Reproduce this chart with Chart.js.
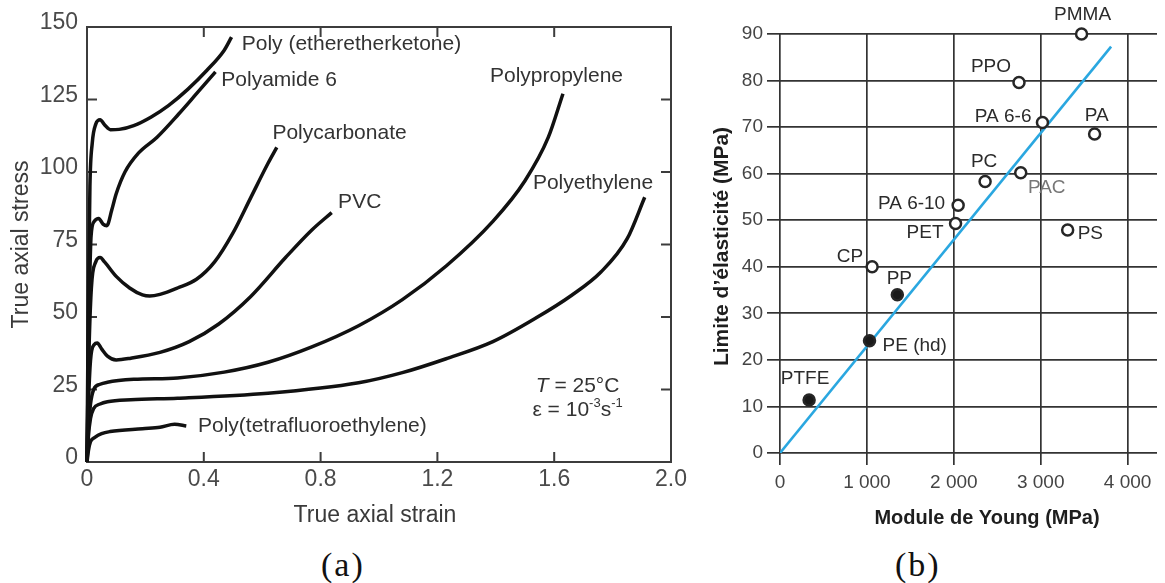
<!DOCTYPE html>
<html>
<head>
<meta charset="utf-8">
<script src="https://cdn.jsdelivr.net/npm/chart.js@4"></script>
<style>
  body { margin: 0; background: #fff; width: 1165px; height: 583px; overflow: hidden; position: relative; }
  #wrapA { position: absolute; left: 0; top: 0; width: 700px; height: 540px; }
  #wrapB { position: absolute; left: 700px; top: 0; width: 465px; height: 540px; }
  .cap { position: absolute; top: 548px; font-family: "Liberation Serif", "Times New Roman", serif; font-size: 34px; line-height: 34px; letter-spacing: 2px; color: #111; }
</style>
</head>
<body>
<div id="wrapA"><canvas id="chartA"></canvas></div>
<div id="wrapB"><canvas id="chartB"></canvas></div>
<div class="cap" style="left:321px">(a)</div>
<div class="cap" style="left:895px">(b)</div>
<script>
document.addEventListener('DOMContentLoaded', function() {

// ---- panel (a): true stress / true strain curves, [strain, stress]
const peek = [[0,0],[0.004,50],[0.01,95],[0.018,110],[0.03,116.5],[0.045,118],[0.06,116.3],[0.08,114.6],[0.11,114.7],[0.16,116],[0.22,119],[0.28,123],[0.345,128.5],[0.41,135],[0.47,142],[0.495,146.5]];
const polyamide6 = [[0,0],[0.006,45],[0.014,78],[0.025,83],[0.04,84],[0.055,82],[0.068,81.5],[0.085,87],[0.1,92.5],[0.13,100],[0.176,106.5],[0.24,112],[0.314,120],[0.375,127],[0.44,134.5]];
const polycarbonate = [[0,0],[0.006,35],[0.015,60],[0.03,69],[0.045,70.5],[0.06,69],[0.1,64],[0.146,60],[0.19,57.6],[0.215,57.2],[0.25,57.8],[0.31,60],[0.375,63],[0.437,69],[0.5,79],[0.56,91],[0.62,103],[0.65,108.5]];
const pvc = [[0,0],[0.005,20],[0.012,35],[0.025,40.5],[0.035,41],[0.05,39],[0.07,36.5],[0.1,35.2],[0.15,35.8],[0.25,37.8],[0.35,41.5],[0.45,47.5],[0.56,57],[0.68,70.5],[0.77,80],[0.838,86]];
const polypropylene = [[0,0],[0.005,12],[0.012,20],[0.023,25],[0.045,26.8],[0.07,27.5],[0.16,28.5],[0.31,29],[0.47,31],[0.62,34.4],[0.77,39.7],[0.93,47],[1.08,56],[1.23,67.6],[1.39,83],[1.5,97],[1.58,112],[1.63,127]];
const polyethylene = [[0,0],[0.005,9],[0.012,15],[0.023,18.5],[0.045,20],[0.07,20.8],[0.15,21.5],[0.31,22],[0.62,23.7],[0.93,27.3],[1.08,30.8],[1.23,35.6],[1.39,41.5],[1.54,49.8],[1.66,57.5],[1.76,65.5],[1.85,77],[1.91,91.3]];
const ptfe = [[0,0],[0.005,4],[0.012,7],[0.027,8.5],[0.05,9.8],[0.079,10.5],[0.19,11.5],[0.25,12],[0.3,13],[0.34,12.4]];

const curves = [peek, polyamide6, polycarbonate, pvc, polypropylene, polyethylene, ptfe];
const curveNames = ['Poly (etheretherketone)', 'Polyamide 6', 'Polycarbonate', 'PVC', 'Polypropylene', 'Polyethylene', 'Poly(tetrafluoroethylene)'];
// where each name sits (strain, stress of its left edge)
const nameStrain = [0.53, 0.46, 0.635, 0.86, 1.38, 1.527, 0.38];
const nameStress = [144, 131.5, 113.5, 89.5, 133, 96, 12.4];

const strainTicks = [0, 0.4, 0.8, 1.2, 1.6, 2.0];
const stressTicks = [0, 25, 50, 75, 100, 125, 150];

// ---- panel (b): yield strength vs Young's modulus
const polymers = ['PMMA', 'PPO', 'PA 6-6', 'PA', 'PC', 'PAC', 'PA 6-10', 'PET', 'PS', 'CP', 'PP', 'PE (hd)', 'PTFE'];
const youngModulus = [3470, 2750, 3020, 3620, 2360, 2770, 2050, 2020, 3310, 1060, 1350, 1030, 335];
const yieldStrength = [90, 79.6, 71, 68.5, 58.3, 60.2, 53.2, 49.3, 47.9, 40, 34, 24.1, 11.4];
const semiCrystalline = [false, false, false, false, false, false, false, false, false, false, true, true, true];
const fitModulus = [0, 3810];
const fitStrength = [0, 87.3];
const modulusTicks = [0, 1000, 2000, 3000, 4000];
const strengthTicks = [0, 10, 20, 30, 40, 50, 60, 70, 80, 90];

const FONT = '"Liberation Sans", Arial, sans-serif';

// no extra room for overflowing tick labels: the plot area is fixed by layout padding
function noPad(s) { s.paddingLeft = 0; s.paddingRight = 0; s.paddingTop = 0; s.paddingBottom = 0; }

// frame, inward ticks and annotations of panel (a)
const decorA = {
    id: 'decorA',
    beforeDatasetsDraw(chart) {
        const { ctx, chartArea: a, scales: { x, y } } = chart;
        ctx.save();
        ctx.strokeStyle = '#3c3c3c';
        ctx.lineWidth = 2;
        ctx.strokeRect(a.left, a.top, a.right - a.left, a.bottom - a.top);
        ctx.beginPath();
        strainTicks.forEach(v => {
            if (v <= 0 || v >= 2) return;
            const px = x.getPixelForValue(v);
            ctx.moveTo(px, a.bottom); ctx.lineTo(px, a.bottom - 10);
            ctx.moveTo(px, a.top); ctx.lineTo(px, a.top + 10);
        });
        stressTicks.forEach(v => {
            if (v <= 0 || v >= 150) return;
            const py = y.getPixelForValue(v);
            ctx.moveTo(a.left, py); ctx.lineTo(a.left + 10, py);
            ctx.moveTo(a.right, py); ctx.lineTo(a.right - 10, py);
        });
        ctx.stroke();
        ctx.restore();
    },
    afterDraw(chart) {
        const { ctx, chartArea: a, scales: { x, y } } = chart;
        ctx.save();
        ctx.fillStyle = '#333';
        ctx.textBaseline = 'middle';
        ctx.textAlign = 'left';
        ctx.font = '21px ' + FONT;
        curveNames.forEach((n, i) => {
            ctx.fillText(n, x.getPixelForValue(nameStrain[i]), y.getPixelForValue(nameStress[i]));
        });

        // test conditions
        const cx = x.getPixelForValue(1.68);
        let py = y.getPixelForValue(26);
        ctx.font = 'italic 21px ' + FONT;
        const wT = ctx.measureText('T').width;
        ctx.font = '21px ' + FONT;
        const rest = ' = 25°C';
        const w1 = wT + ctx.measureText(rest).width;
        ctx.font = 'italic 21px ' + FONT;
        ctx.fillText('T', cx - w1 / 2, py);
        ctx.font = '21px ' + FONT;
        ctx.fillText(rest, cx - w1 / 2 + wT, py);

        py = y.getPixelForValue(17.8);
        const parts = [['ε = 10', 21, 0], ['-3', 13, -7], ['s', 21, 0], ['-1', 13, -7]];
        let total = 0;
        parts.forEach(p => { ctx.font = p[1] + 'px ' + FONT; total += ctx.measureText(p[0]).width; });
        let px = cx - total / 2;
        parts.forEach(p => {
            ctx.font = p[1] + 'px ' + FONT;
            ctx.fillText(p[0], px, py + p[2]);
            px += ctx.measureText(p[0]).width;
        });

        // axis titles
        ctx.fillStyle = '#3a3a3a';
        ctx.font = '23px ' + FONT;
        ctx.textAlign = 'center';
        ctx.fillText('True axial strain', (a.left + a.right) / 2 - 4, 516);
        ctx.translate(22, (a.top + a.bottom) / 2);
        ctx.rotate(-Math.PI / 2);
        ctx.fillText('True axial stress', 0, 0);
        ctx.restore();
    }
};

new Chart(document.getElementById('chartA'), {
    type: 'scatter',
    data: {
        datasets: curves.map(c => ({
            data: c.map(p => ({ x: p[0], y: p[1] })),
            showLine: true,
            borderColor: '#111',
            borderWidth: 3.5,
            pointRadius: 0,
            cubicInterpolationMode: 'monotone',
            clip: 6
        }))
    },
    options: {
        responsive: true,
        maintainAspectRatio: false,
        animation: false,
        layout: { padding: { left: 0, top: 27, right: 29, bottom: 0 } },
        plugins: { legend: { display: false }, tooltip: { enabled: false } },
        scales: {
            x: {
                type: 'linear', min: 0, max: 2, bounds: 'data',
                afterBuildTicks: s => { s.ticks = strainTicks.map(v => ({ value: v })); },
                ticks: { callback: v => v === 0 ? '0' : v.toFixed(1), font: { size: 23, family: FONT }, color: '#4a4a4a', padding: 4, maxRotation: 0 },
                grid: { display: false, drawTicks: false },
                border: { display: false },
                afterFit: s => { s.height = 78; noPad(s); }
            },
            y: {
                type: 'linear', min: 0, max: 150, bounds: 'data',
                afterBuildTicks: s => { s.ticks = stressTicks.map(v => ({ value: v })); },
                ticks: { font: { size: 23, family: FONT }, color: '#4a4a4a', padding: 9, labelOffset: -4 },
                grid: { display: false, drawTicks: false },
                border: { display: false },
                afterFit: s => { s.width = 87; noPad(s); }
            }
        }
    },
    plugins: [decorA]
});

// labels placement around the markers of panel (b): [align, dx, dy] in pixels
const labelPlacement = [['center', 1, -19], ['center', -28, -16], ['right', -11, -6], ['center', 2, -18], ['center', -1, -20], ['center', 26, 15], ['right', -13, -2], ['right', -12, 9], ['left', 10, 4], ['right', -9, -10], ['center', 2, -16], ['left', 13, 5], ['center', -4, -21]];

const decorB = {
    id: 'decorB',
    afterDraw(chart) {
        const { ctx, chartArea: a, scales: { x, y } } = chart;
        ctx.save();
        ctx.textBaseline = 'middle';
        ctx.font = '19px ' + FONT;
        polymers.forEach((n, i) => {
            const p = labelPlacement[i];
            ctx.textAlign = p[0];
            ctx.fillStyle = n === 'PAC' ? '#777' : '#2b2b2b';
            ctx.fillText(n, x.getPixelForValue(youngModulus[i]) + p[1], y.getPixelForValue(yieldStrength[i]) + p[2]);
        });
        ctx.fillStyle = '#1e1e1e';
        ctx.font = 'bold 20px ' + FONT;
        ctx.textAlign = 'center';
        ctx.fillText('Module de Young (MPa)', 287, 518);
        ctx.font = 'bold 21px ' + FONT;
        ctx.translate(22, (a.top + a.bottom) / 2 + 3);
        ctx.rotate(-Math.PI / 2);
        ctx.fillText('Limite d\u2019élasticité (MPa)', 0, 0);
        ctx.restore();
    }
};

new Chart(document.getElementById('chartB'), {
    type: 'scatter',
    data: {
        datasets: [{
            data: youngModulus.map((m, i) => ({ x: m, y: yieldStrength[i] })),
            pointRadius: 5.5,
            pointBorderWidth: 2.5,
            pointBorderColor: '#262626',
            pointBackgroundColor: semiCrystalline.map(f => f ? '#1a1a1a' : '#ffffff'),
            clip: false
        }, {
            data: fitModulus.map((m, i) => ({ x: m, y: fitStrength[i] })),
            showLine: true,
            borderColor: '#2aa7e0',
            borderWidth: 2.6,
            pointRadius: 0
        }]
    },
    options: {
        responsive: true,
        maintainAspectRatio: false,
        animation: false,
        layout: { padding: { left: 0, top: 34, right: 0, bottom: 0 } },
        plugins: { legend: { display: false }, tooltip: { enabled: false } },
        scales: {
            x: {
                // the layout keeps ~6px on the right, so the range ends a little lower
                type: 'linear', min: 0, max: 4338, bounds: 'data',
                afterBuildTicks: s => { s.ticks = modulusTicks.map(v => ({ value: v })); },
                ticks: { callback: v => v === 0 ? '0' : (v / 1000) + ' 000', font: { size: 19, family: FONT }, color: '#444', padding: 6, maxRotation: 0 },
                grid: { color: '#333', lineWidth: 1.7, tickLength: 12 },
                border: { display: false },
                afterFit: s => { s.height = 87; noPad(s); }
            },
            y: {
                type: 'linear', min: 0, max: 90, bounds: 'data',
                afterBuildTicks: s => { s.ticks = strengthTicks.map(v => ({ value: v })); },
                ticks: { font: { size: 19, family: FONT }, color: '#444', padding: 4 },
                grid: { color: '#333', lineWidth: 1.7, tickLength: 13 },
                border: { display: false },
                afterFit: s => { s.width = 80; noPad(s); }
            }
        }
    },
    plugins: [decorB]
});

});
</script>
</body>
</html>
